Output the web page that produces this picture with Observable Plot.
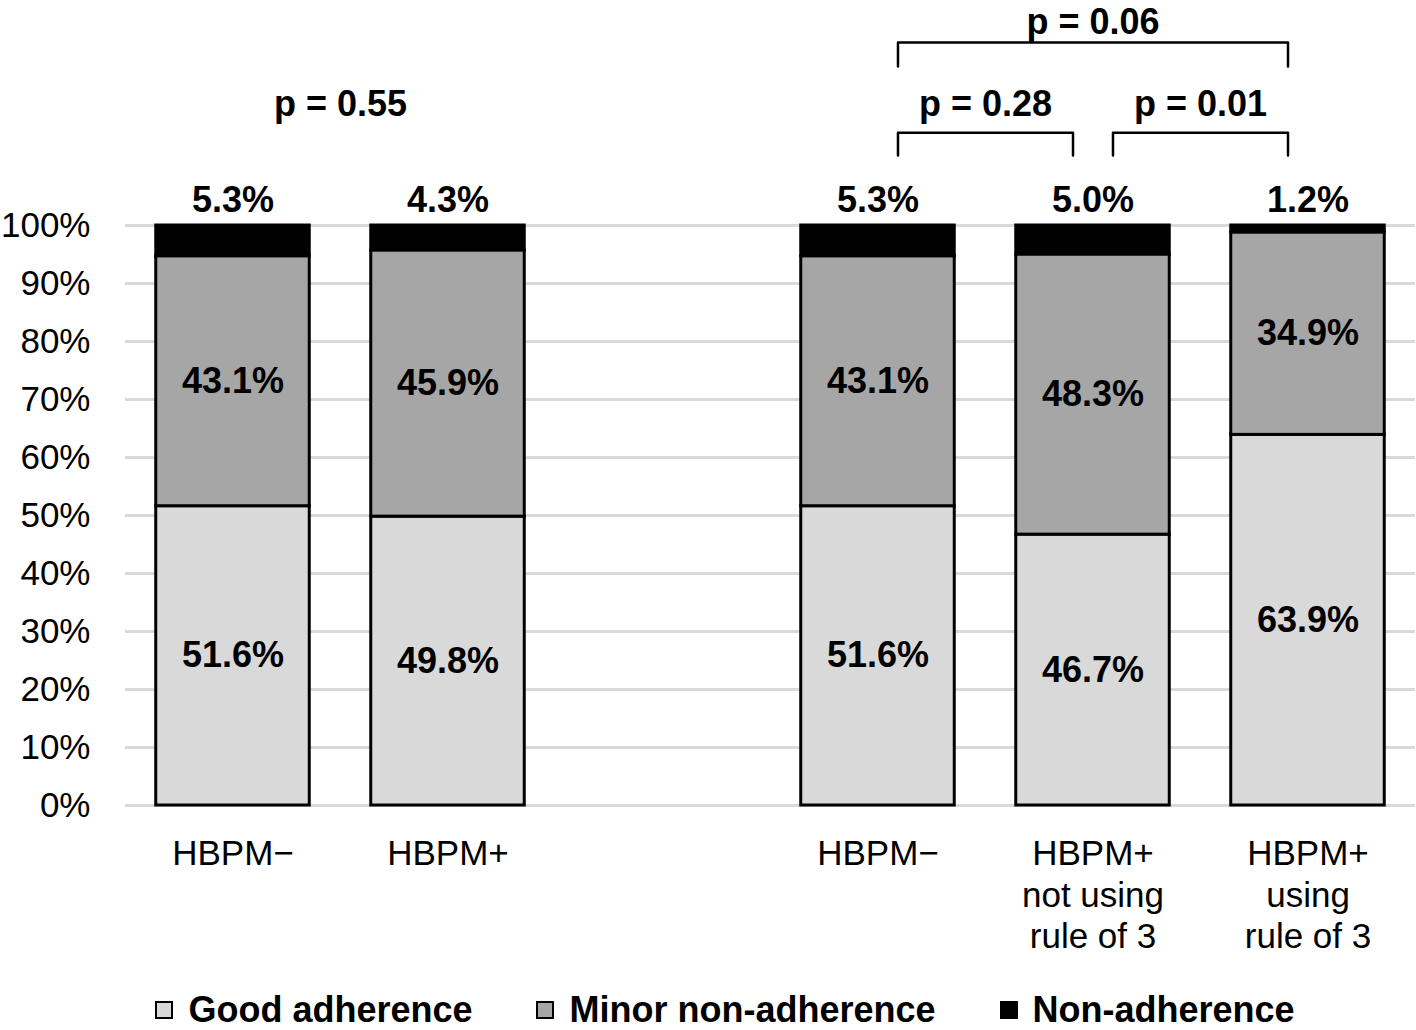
<!DOCTYPE html>
<html>
<head>
<meta charset="utf-8">
<script src="https://cdn.jsdelivr.net/npm/d3@7"></script>
<script src="https://cdn.jsdelivr.net/npm/@observablehq/plot@0.6"></script>
<style>
  html, body { margin: 0; padding: 0; background: #fff; }
  body { width: 1416px; height: 1030px; overflow: hidden; font-family: "Liberation Sans", Arial, sans-serif; }
  #chart svg { display: block; }
  #legend { display: flex; justify-content: center; align-items: center; height: 36px; padding-left: 34px;
    font-weight: bold; font-size: 36px; line-height: 36px; color: #000; }
  #legend .item { display: flex; align-items: center; margin: 0 32px; }
  #legend .sw { width: 14px; height: 14px; border: 2px solid #000; margin-right: 15px; flex: none; }
</style>
</head>
<body>
<div id="chart"></div>
<div id="legend"></div>
<script>
// ---- data ----
const groupLabels = ["HBPM\u2212", "HBPM+", "", "HBPM\u2212", "HBPM+\nnot using\nrule of 3", "HBPM+\nusing\nrule of 3"];
const goodAdherence = [51.6, 49.8, null, 51.6, 46.7, 63.9];
const minorNonAdherence = [43.1, 45.9, null, 43.1, 48.3, 34.9];
const nonAdherence = [5.3, 4.3, null, 5.3, 5.0, 1.2];
const seriesNames = ["Good adherence", "Minor non-adherence", "Non-adherence"];
const seriesColors = ["#d9d9d9", "#a6a6a6", "#000000"];
const yTicks = [0, 10, 20, 30, 40, 50, 60, 70, 80, 90, 100];

// p-value comparisons: [from bar index, to bar index, label, level]
const compFrom = [0, 3, 4, 3];
const compTo = [1, 4, 5, 5];
const compText = ["p = 0.55", "p = 0.28", "p = 0.01", "p = 0.06"];
const compBracket = [false, true, true, true];
const compLevel = [0, 0, 0, 1];

// ---- derived table ----
const segs = [];
const series = [goodAdherence, minorNonAdherence, nonAdherence];
groupLabels.forEach((g, i) => {
  if (goodAdherence[i] == null) return;
  let base = 0;
  series.forEach((arr, s) => {
    segs.push({i, series: seriesNames[s], y1: base, y2: base + arr[i], v: arr[i], s});
    base += arr[i];
  });
});
const barIdx = groupLabels.map((g, i) => i).filter(i => goodAdherence[i] != null);

const half = 0.357;      // half bar width in band units
const off = 0.093;       // bracket inset from bar centre
const levelTop = [116.0, 131.55];
const levelEnd = [112.07, 127.4];
const levelText = [120.8, 135.0];

const brackets = [];
compFrom.forEach((f, k) => {
  if (!compBracket[k]) return;
  const L = compLevel[k];
  const x1 = f + off, x2 = compTo[k] - off;
  brackets.push({k, x: x1, y: levelEnd[L]}, {k, x: x1, y: levelTop[L]},
                {k, x: x2, y: levelTop[L]}, {k, x: x2, y: levelEnd[L]});
});
const pLabels = compFrom.map((f, k) => ({x: (f + compTo[k]) / 2, y: levelText[compLevel[k]], t: compText[k]}));

const chart = Plot.plot({
  width: 1416,
  height: 992,
  marginLeft: 125,
  marginRight: 1,
  marginTop: 225,
  marginBottom: 187,
  style: {fontFamily: "'Liberation Sans', Arial, sans-serif", background: "#fff", color: "#000"},
  x: {type: "linear", domain: [-0.5, 5.5], axis: null},
  y: {domain: [0, 100], axis: null},
  color: {domain: seriesNames, range: seriesColors},
  marks: [
    Plot.ruleY(yTicks, {stroke: "#d9d9d9", strokeWidth: 3}),
    Plot.rect(segs, {x1: d => d.i - half, x2: d => d.i + half, y1: "y1", y2: "y2", fill: "series",
      stroke: "#000", strokeWidth: 3}),
    Plot.text(segs.filter(d => d.s < 2), {x: "i", y: d => (d.y1 + d.y2) / 2, text: d => d.v.toFixed(1) + "%",
      fontSize: 36, fontWeight: "bold", fill: "#000"}),
    Plot.text(segs.filter(d => d.s === 2), {x: "i", y: "y2", dy: -25, text: d => d.v.toFixed(1) + "%",
      fontSize: 36, fontWeight: "bold", fill: "#000"}),
    Plot.line(brackets, {x: "x", y: "y", z: "k", stroke: "#000", strokeWidth: 2.5}),
    Plot.text(pLabels, {x: "x", y: "y", text: "t", fontSize: 36, fontWeight: "bold", fill: "#000"}),
    Plot.axisY({ticks: yTicks, tickFormat: d => d + "%", tickSize: 0, tickPadding: 35, fontSize: 35, label: null}),
    Plot.axisX({ticks: barIdx, tickFormat: d => groupLabels[d], tickSize: 0, tickPadding: 30, fontSize: 35,
      lineHeight: 1.19, label: null})
  ]
});
document.getElementById("chart").appendChild(chart);

const legend = document.getElementById("legend");
seriesNames.forEach((n, i) => {
  const it = document.createElement("div");
  it.className = "item";
  const sw = document.createElement("div");
  sw.className = "sw";
  sw.style.background = seriesColors[i];
  const tx = document.createElement("span");
  tx.textContent = n;
  it.appendChild(sw); it.appendChild(tx);
  legend.appendChild(it);
});
</script>
</body>
</html>
